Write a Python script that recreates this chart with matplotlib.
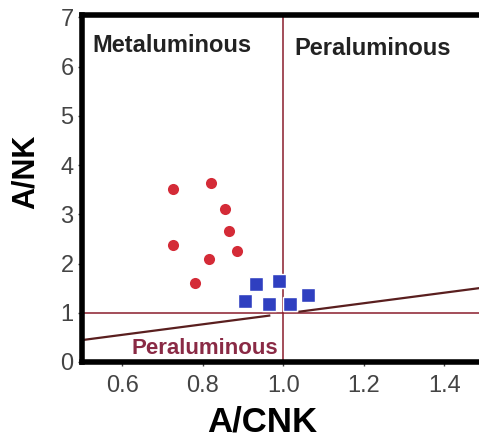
import matplotlib
matplotlib.use("Agg")
import matplotlib.pyplot as plt

plt.rcParams['font.family'] = ['Liberation Sans', 'DejaVu Sans']

# metaluminous samples (red circles)
meta_acnk = [0.727, 0.820, 0.855, 0.864, 0.726, 0.815, 0.884, 0.780]
meta_ank = [3.51, 3.64, 3.11, 2.67, 2.38, 2.10, 2.26, 1.61]

# samples near the boundary (blue squares)
per_acnk = [0.906, 0.932, 0.990, 0.964, 1.016, 1.062]
per_ank = [1.24, 1.58, 1.64, 1.17, 1.17, 1.37]

# sloped boundary, drawn in two pieces around the squares
slope_x_left = [0.5, 0.965]
slope_x_right = [1.04, 1.49]
slope_y0 = 0.445
slope_k = 1.07

xticks = [0.6, 0.8, 1.0, 1.2, 1.4]
yticks = [0, 1, 2, 3, 4, 5, 6, 7]

fig = plt.figure(figsize=(4.79, 4.41), dpi=100)
ax = fig.add_axes([82 / 479, 79 / 441, 1 - 82 / 479, (362 - 15) / 441])
ax.set_xlim(0.5, 1.486)
ax.set_ylim(0, 7.05)

line_red = '#8a1c2c'
ax.axhline(1, color=line_red, lw=1.1, zorder=1)
ax.axvline(1, color=line_red, lw=1.1, zorder=1)
for xs in (slope_x_left, slope_x_right):
    ys = [slope_y0 + slope_k * (v - 0.5) for v in xs]
    ax.plot(xs, ys, color='#5a1f1f', lw=1.6, zorder=2)

ax.plot(meta_acnk, meta_ank, 'o', color='#d42b37', ms=8, mec='none', zorder=3)
ax.plot(per_acnk, per_ank, 's', color='#2f3fc0', ms=10, mec='white', mew=1, zorder=3)

ax.text(0.527, 6.30, 'Metaluminous', fontsize=17, fontweight='bold', color='#222222')
ax.text(1.028, 6.24, 'Peraluminous', fontsize=17, fontweight='bold', color='#222222')
ax.text(0.624, 0.16, 'Peraluminous', fontsize=16, fontweight='bold', color='#8a2a45')

ax.set_xticks(xticks)
ax.set_xticklabels(['0.6', '0.8', '1.0', '1.2', '1.4'])
ax.set_yticks(yticks)
ax.tick_params(labelsize=17, colors='#444444', length=3, width=1, pad=6)
ax.tick_params(axis='y', pad=3)

for side in ('left', 'bottom', 'top'):
    ax.spines[side].set_linewidth(4)
    ax.spines[side].set_color('black')
ax.spines['right'].set_visible(False)

fig.text(26 / 479, 1 - 172 / 441, 'A/NK', rotation=90, fontsize=22, fontweight='bold',
         ha='center', va='center')
fig.text(262 / 479, 1 - 432 / 441, 'A/CNK', fontsize=25, fontweight='bold',
         ha='center', va='baseline')

fig.savefig('out.png', dpi=100)
